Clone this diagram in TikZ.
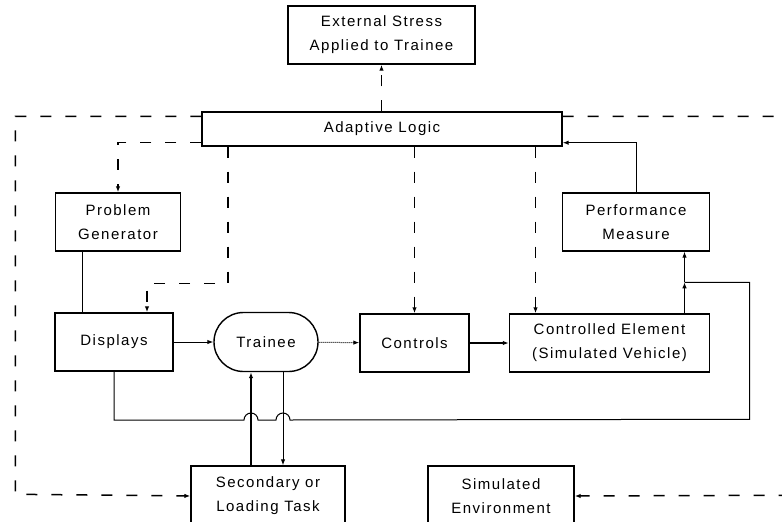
\documentclass[tikz,border=0pt]{standalone}
\usepackage{fontspec}
\newfontfamily\lettering[LetterSpace=10]{Liberation Sans}
\usetikzlibrary{arrows.meta,calc,shapes.misc}

\begin{document}
\begin{tikzpicture}[x=1pt,y=-1pt,
    block/.style={draw,line width=1.4pt,align=center,inner sep=0pt,
      font=\lettering\fontsize{15}{24}\selectfont},
    wire/.style={line width=1pt},
    ctl/.style={line width=1.5pt,dash pattern=on 11pt off 14pt},
    tip/.style={-{Latex[length=6pt,width=4.5pt]}}]
  \useasboundingbox (0,0) rectangle (782,522);
  % blocks
  \node [block,minimum width=187pt,minimum height=58pt] (stress) at (381.5,35) {External Stress\\Applied to Trainee};
  \node [block,minimum width=360pt,minimum height=34pt] (logic) at (382,129) {Adaptive Logic};
  \node [block,minimum width=125pt,minimum height=58pt] (problem) at (118,222) {Problem\\Generator};
  \node [block,minimum width=147pt,minimum height=58pt] (perf) at (636,222) {Performance\\Measure};
  \node [block,minimum width=118pt,minimum height=58pt] (disp) at (114,342) {Displays};
  \node [block,rounded rectangle,minimum width=104pt,minimum height=59pt] (trainee) at (266,342) {Trainee};
  \node [block,minimum width=109pt,minimum height=58pt] (ctrl) at (414.5,343) {Controls};
  \node [block,minimum width=200pt,minimum height=58pt] (elem) at (609.5,343) {Controlled Element\\(Simulated Vehicle)};
  \node [block,minimum width=154pt,minimum height=60pt] (task) at (268,496) {Secondary or\\Loading Task};
  \node [block,minimum width=146pt,minimum height=60pt] (env) at (501,496) {Simulated\\Environment};
  % helper points
  \coordinate (ta) at ([xshift=-15pt]trainee.south);
  \coordinate (tb) at ([xshift=17pt]trainee.south);
  \coordinate (e1) at ([xshift=-74pt]elem.north);
  \coordinate (e2) at ([xshift=75pt]elem.north);
  \coordinate (j) at ($(e2)+(0,-31)$);
  % control lines from the adaptive logic
  \draw [ctl,tip] (logic.north -| stress.south) -- (stress.south);
  \draw [ctl,tip] ($(logic.north west)+(0,5)$) -- ++(-186,0) -- ++(0,378) -- (task.west);
  \draw [ctl,tip] ($(logic.north east)+(0,5)$) -- ++(224,0) -- ++(0,379) -- (env.east);
  \draw [ctl,tip] ($(logic.south west)+(0,-4)$) -| (problem.north);
  \draw [ctl,tip] ([xshift=-154pt]logic.south) -- ++(0,137) -| ([xshift=33pt]disp.north);
  \draw [ctl,tip] (ctrl.north |- logic.south) -- (ctrl.north);
  \draw [ctl,tip] (e1 |- logic.south) -- (e1);
  % signal flow
  \draw [wire] ([xshift=-36pt]problem.south) -- ([xshift=-36pt]problem.south |- disp.north);
  \draw [wire,tip] (disp) -- (trainee);
  \draw [wire,densely dotted,tip] (trainee) -- (ctrl);
  \draw [line width=1.5pt,tip] (ctrl) -- (elem);
  \draw [wire,tip] (e2) -- (j);
  \draw [wire,tip] (j) -- (j |- perf.south);
  \draw [wire,tip] (perf.north) |- ($(logic.south east)+(0,-4)$);
  \draw [wire] (j) -- ++(65,0) -- ++(0,137)
    -- ($(tb |- 0,420)+(7,0)$) arc [start angle=0,end angle=180,radius=7pt]
    -- ($(ta |- 0,420)+(7,0)$) arc [start angle=0,end angle=180,radius=7pt]
    -| (disp.south);
  \draw [line width=1.4pt,tip] (ta |- task.north) -- (ta);
  \draw [wire,tip] (tb) -- (tb |- task.north);
\end{tikzpicture}
\end{document}
